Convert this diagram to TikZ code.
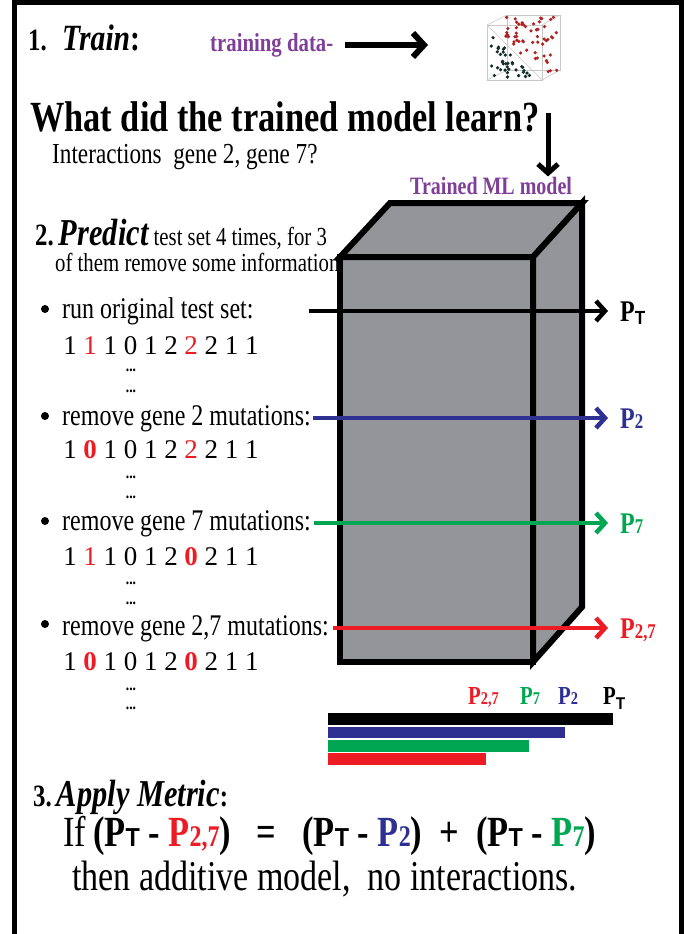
\documentclass[tikz,border=0pt]{standalone}
\usepackage{fontspec}
\setmainfont{Liberation Serif}[FakeStretch=0.8]
\newfontfamily\dfont{Liberation Serif}
\newfontfamily\tfont{Liberation Sans}[FakeStretch=0.9]
\usetikzlibrary{arrows.meta}
\definecolor{BlueClr}{RGB}{46,49,146}
\definecolor{GreenClr}{RGB}{0,166,81}
\definecolor{RedClr}{RGB}{237,28,36}
\definecolor{PurpleClr}{RGB}{127,63,152}
\definecolor{BoxClr}{RGB}{147,149,152}
\definecolor{CubeClr}{RGB}{200,200,200}
\definecolor{DarkDot}{RGB}{20,45,40}
\definecolor{RedDot}{RGB}{175,35,35}
\newcommand{\fs}[1]{\fontsize{#1}{#1}\selectfont}
\newcommand{\rn}[1]{\textcolor{RedClr}{#1}}
\newcommand{\rb}[1]{\textcolor{RedClr}{\bfseries#1}}
\newcommand{\PT}[2]{\textbf{P}\raisebox{-#2}{\tfont\bfseries\fs{#1}T}}
\newcommand{\Pn}[2]{\textbf{P{\fs{#1}#2}}}

\begin{document}
\begin{tikzpicture}[x=1pt,y=-1pt,
  txt/.style={anchor=base west,inner sep=0pt},
  digit/.style={anchor=base,inner sep=0pt,font=\dfont\fs{27}},
  ell/.style={inner sep=0pt,font=\bfseries\fs{17}},
  plabel/.style={anchor=west,inner sep=0pt,text height=20pt,text depth=0pt,font=\fs{30}},
  flow/.style={line width=4.5pt,-{Straight Barb[length=9pt,width=20pt]}},
  bigflow/.style={line width=6pt,-{Straight Barb[length=11pt,width=24pt]}},
  face/.style={line width=6pt,fill=BoxClr,line join=miter}]
\useasboundingbox (0,0) rectangle (684,934);

\draw[line width=4.5pt] (14.5,934) -- (14.5,2.5) -- (681.5,2.5) -- (681.5,934);

\node[txt] (n1) at (28,51) {\bfseries\fs{31}1.};
\node[txt] (train) at (62,51) {\bfseries\fs{37}\textit{Train}:};
\node[txt,text=PurpleClr] (tdata) at (210,52) {\bfseries\fs{26}training data-};
\coordinate (cubeW) at (428,45);
\draw[bigflow,shorten <=12pt] (tdata.east |- cubeW) -- (cubeW);

\begin{scope}[line width=0.6pt,draw=CubeClr]
\draw (487,25) rectangle (542,80);
\draw (507,15) rectangle (560,70);
\draw (487,25) -- (507,15) (542,25) -- (560,15) (542,80) -- (560,70) (487,80) -- (507,70);
\draw (487,25) -- (542,80);
\end{scope}
\pgfmathsetseed{11}
\foreach \k in {1,...,36}{
  \pgfmathsetmacro\ua{rnd}
  \pgfmathsetmacro\ub{rnd}
  \pgfmathsetmacro\lo{min(\ua,\ub)}
  \pgfmathsetmacro\hi{max(\ua,\ub)}
  \fill[DarkDot] ({489+44*(1-\hi)},{79-50*\lo}) circle (1.8pt);
}
\foreach \k in {1,...,56}{
  \pgfmathsetmacro\ux{506+52*rnd}
  \pgfmathsetmacro\uy{17+min(56,\ux-484)*rnd}
  \fill[RedDot] (\ux,\uy) circle (1.8pt);
}

\node[txt] (q) at (30,131) {\bfseries\fs{43}What did the trained model learn?};
\node[txt] (inter) at (52,163) {\fs{29}Interactions\ \ gene 2, gene 7?};
\node[txt,text=PurpleClr] (ml) at (410,194) {\bfseries\fs{25}Trained ML model};
\coordinate (mtop) at (548,113);
\draw[flow,line width=5pt] (mtop) -- (mtop |- ml.north);

\draw[face] (340,257) -- (533,257) -- (533,662) -- (340,662) -- cycle;
\draw[face] (340,257) -- (390,203) -- (582,203) -- (533,257) -- cycle;
\draw[face] (533,257) -- (582,203) -- (582,607) -- (533,662) -- cycle;

\node[txt] (p2) at (35,245) {\bfseries\fs{31}2.\,{\itshape\fs{38}Predict}\mdseries\fs{26} test set 4 times, for 3};
\node[txt] (p2b) at (55,271) {\fs{26}of them remove some information};

\foreach \yy/\bb in {318/b1,425/b2,530/b3,633/b4}
  \fill (45,\yy-9) circle (4pt) coordinate (\bb dot);
\node[txt] (b1) at (62,318) {\fs{30}run original test set:};
\node[txt] (b2) at (62,425) {\fs{30}remove gene 2 mutations:};
\node[txt] (b3) at (62,530) {\fs{30}remove gene 7 mutations:};
\node[txt] (b4) at (62,635) {\fs{30}remove gene 2,7 mutations:};

\foreach \d [count=\i from 0] in {1,\rn{1},1,0,1,2,\rn{2},2,1,1}
  \node[digit] (ra\i) at (70+20.2*\i,354) {\d};
\foreach \d [count=\i from 0] in {1,\rb{0},1,0,1,2,\rn{2},2,1,1}
  \node[digit] (rb\i) at (70+20.2*\i,458) {\d};
\foreach \d [count=\i from 0] in {1,\rn{1},1,0,1,2,\rb{0},2,1,1}
  \node[digit] (rc\i) at (70+20.2*\i,565) {\d};
\foreach \d [count=\i from 0] in {1,\rb{0},1,0,1,2,\rb{0},2,1,1}
  \node[digit] (rd\i) at (70+20.2*\i,670) {\d};
\foreach \yy in {370,391,477,497,583,603,689,708}
  \node[ell] (e\yy) at (131,\yy) {...};

\node[plabel] (pT) at (620,311) {\PT{19}{3pt}};
\node[plabel,text=BlueClr] (pB) at (620,418) {\Pn{21}{2}};
\node[plabel,text=GreenClr] (pG) at (620,523) {\Pn{21}{7}};
\node[plabel,text=RedClr] (pR) at (620,628) {\Pn{21}{2,7}};
\draw[flow,shorten >=12pt] ([xshift=55pt]b1.east |- pT.west) -- (pT.west);
\draw[flow,draw=BlueClr,shorten <=2pt,shorten >=12pt] (b2.east |- pB.west) -- (pB.west);
\draw[flow,draw=GreenClr,shorten <=3pt,shorten >=12pt] (b3.east |- pG.west) -- (pG.west);
\draw[flow,draw=RedClr,shorten <=4pt,shorten >=12pt] (b4.east |- pR.west) -- (pR.west);

\fill[black] (328,713) rectangle (613,725);
\fill[BlueClr] (328,727) rectangle (565,738);
\fill[GreenClr] (328,740) rectangle (529,752);
\fill[RedClr] (328,753) rectangle (486,765);
\node[txt,text=RedClr] (lR) at (468,704) {\fs{26}\Pn{18}{2,7}};
\node[txt,text=GreenClr] (lG) at (520,704) {\fs{26}\Pn{18}{7}};
\node[txt,text=BlueClr] (lB) at (558,704) {\fs{26}\Pn{18}{2}};
\node[txt] (lT) at (603,704) {\fs{26}\PT{17}{5pt}};

\node[txt] (n3) at (33,806) {\bfseries\fs{31}3.\,{\itshape\fs{38}Apply Metric}:};
\node[txt] (eq) at (63,846) {\fs{43}If\,\textbf{(}\PT{26}{0pt}\ \textbf{-}\ \textcolor{RedClr}{\Pn{30}{2,7}}\textbf{)}\ \ \ \textbf{=}\ \ \ \textbf{(}\PT{26}{0pt}\ \textbf{-}\ \textcolor{BlueClr}{\Pn{30}{2}}\textbf{)}\ \ \textbf{+}\ \ \textbf{(}\PT{26}{0pt}\ \textbf{-}\ \textcolor{GreenClr}{\Pn{30}{7}}\textbf{)}};
\node[txt] (concl) at (72,890) {\fs{42.5}then additive model,\ \ no interactions.};
\end{tikzpicture}
\end{document}
